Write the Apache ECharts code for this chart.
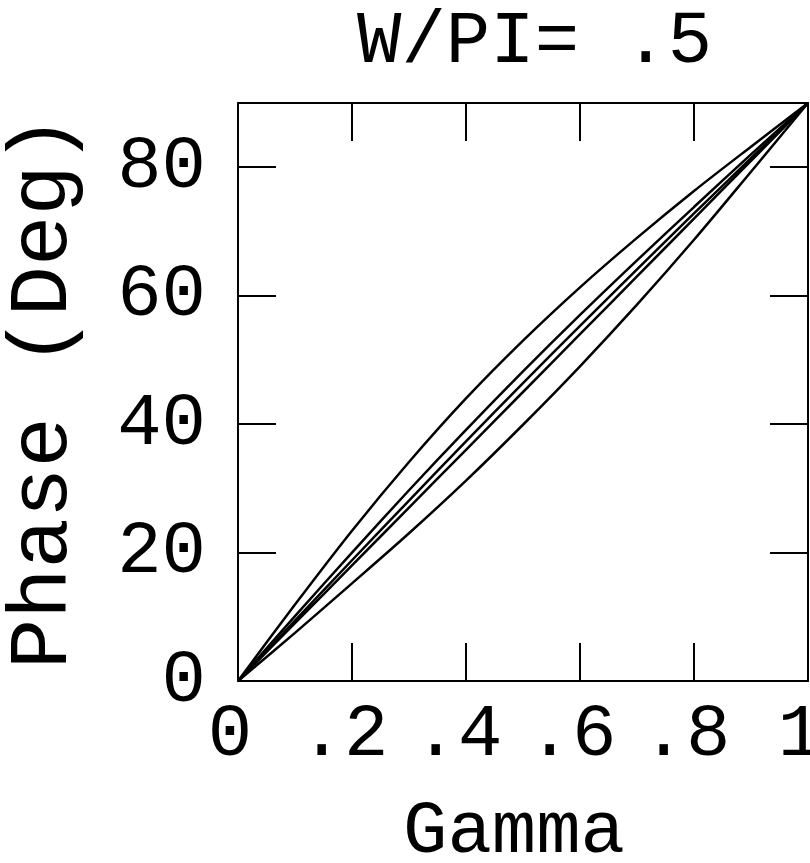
<!DOCTYPE html>
<html>
<head>
<meta charset="utf-8">
<script src="https://cdn.jsdelivr.net/npm/echarts@6/dist/echarts.min.js"></script>
<style>
html, body { margin: 0; padding: 0; background: #fff; }
#main { width: 810px; height: 863px; }
</style>
</head>
<body>
<div id="main"></div>
<script>
// gamma values and phase (deg), one array per curve
var gamma = [0, 0.1, 0.2, 0.3, 0.4, 0.5, 0.6, 0.7, 0.8, 0.9, 1];
var phaseA = [0, 11.9, 23.4, 34.1, 44.0, 53.0, 61.3, 69.0, 76.3, 83.2, 90];
var phaseB = [0, 10.1, 20.0, 29.7, 39.1, 48.2, 57.0, 65.5, 73.8, 82.0, 90];
var phaseC = [0, 9.4, 18.8, 28.1, 37.3, 46.4, 55.3, 64.1, 72.8, 81.4, 90];
var phaseD = [0, 9.0, 18.0, 27.0, 36.0, 45.0, 54.0, 63.0, 72.0, 81.0, 90];
var phaseE = [0, 7.5, 15.2, 23.0, 31.2, 39.9, 49.0, 58.6, 68.7, 79.3, 90];
var curves = [phaseA, phaseB, phaseC, phaseD, phaseE];

var font = '"Liberation Mono", "DejaVu Sans Mono", monospace';

function pairs(ys) {
	var out = [];
	for (var i = 0; i < gamma.length; i++) {
		out.push([gamma[i], ys[i]]);
	}
	return out;
}

var series = [];
for (var i = 0; i < curves.length; i++) {
	series.push({
		type: 'line',
		data: pairs(curves[i]),
		smooth: 0.3,
		symbol: 'none',
		lineStyle: { color: '#000', width: 2.5 }
	});
}

var axisLine = { onZero: false, lineStyle: { color: '#000', width: 2 } };
var tickStyle = { show: true, inside: true, length: 38, lineStyle: { color: '#000', width: 2 } };

var chart = echarts.init(document.getElementById('main'));
chart.setOption({
	backgroundColor: '#fff',
	animation: false,
	title: {
		text: 'W/PI= .5',
		left: 352,
		top: 0,
		textStyle: { fontFamily: font, fontSize: 74, fontWeight: 'normal', color: '#000' }
	},
	grid: { left: 238, right: 2, top: 103, bottom: 182, containLabel: false, outerBoundsMode: 'none' },
	xAxis: [
		{
			type: 'value', position: 'bottom', min: 0, max: 1, interval: 0.2,
			axisLine: axisLine, axisTick: tickStyle, splitLine: { show: false },
			axisLabel: {
				margin: 17, fontFamily: font, fontSize: 74, color: '#000',
				padding: [0, 16, 0, 0],
				formatter: function (v) {
					if (v === 0) return '0';
					if (v === 1) return '1';
					return '.' + Math.round(v * 10);
				}
			},
			name: 'Gamma', nameLocation: 'middle', nameGap: 114,
			nameTextStyle: { fontFamily: font, fontSize: 74, color: '#000', padding: [0, 18, 0, 0] }
		},
		{
			type: 'value', position: 'top', min: 0, max: 1, interval: 0.2,
			axisLine: axisLine, axisTick: tickStyle, splitLine: { show: false },
			axisLabel: { show: false }
		}
	],
	yAxis: [
		{
			type: 'value', position: 'left', min: 0, max: 90, interval: 20,
			axisLine: axisLine, axisTick: tickStyle, splitLine: { show: false },
			axisLabel: {
				margin: 32, fontFamily: font, fontSize: 74, color: '#000',
				formatter: function (v) { return v > 85 ? '' : String(v); }
			},
			name: 'Phase (Deg)', nameLocation: 'middle', nameGap: 152, nameRotate: 90,
			nameTextStyle: { fontFamily: font, fontSize: 84, color: '#000' }
		},
		{
			type: 'value', position: 'right', min: 0, max: 90, interval: 20,
			axisLine: axisLine, axisTick: tickStyle, splitLine: { show: false },
			axisLabel: { show: false }
		}
	],
	series: series
});
</script>
</body>
</html>
